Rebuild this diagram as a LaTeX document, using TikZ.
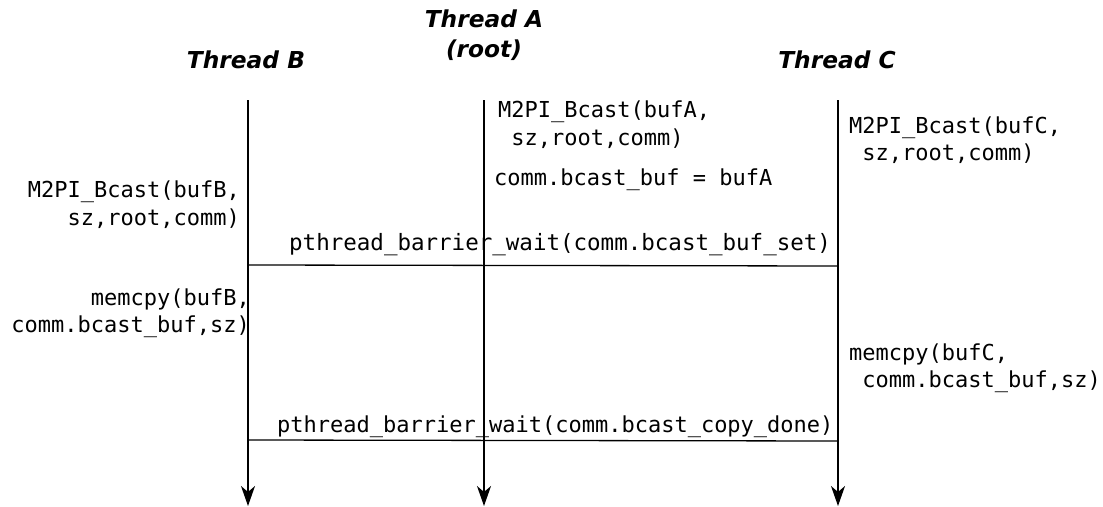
\documentclass[tikz,border=0pt]{standalone}
\usepackage{fontspec}
\setmainfont{DejaVu Sans}
\setmonofont{DejaVu Sans Mono}
\usetikzlibrary{arrows.meta}
\begin{document}
\begin{tikzpicture}[x=1pt,y=-1pt,
  hdr/.style={font=\fontsize{23.3}{30}\selectfont\bfseries\itshape, inner sep=0pt, align=center},
  code/.style={font=\fontsize{22}{27.5}\selectfont\ttfamily, inner sep=0pt},
  life/.style={line width=1.3pt, -{Stealth[length=20pt,width=14pt,inset=6pt]}},
  barrier/.style={line width=1.3pt}]
\useasboundingbox (0,0) rectangle (1103,506);
% headers
\node[hdr] (hB) at (246,60) {Thread B};
\node[hdr] (hA) at (484,35) {Thread A\\(root)};
\node[hdr] (hC) at (837,60) {Thread C};
% lifeline coordinates
\coordinate (topB) at (248,100);
\coordinate (botB) at (248,506);
\coordinate (topA) at (484,100);
\coordinate (botA) at (484,506);
\coordinate (topC) at (838,100);
\coordinate (botC) at (838,506);
\draw[life] (topB) -- (botB);
\draw[life] (topA) -- (botA);
\draw[life] (topC) -- (botC);
% barriers
\coordinate (b1L) at (248,265);
\coordinate (b1R) at (838,266);
\coordinate (b2L) at (248,440);
\coordinate (b2R) at (838,441);
\draw[barrier] (b1L) -- (b1R);
\draw[barrier] (b2L) -- (b2R);
% texts
\node[code, anchor=base west] (tA1) at (498,117.5) {M2PI\_Bcast(bufA,};
\node[code, anchor=base west] (tA2) at (498,145) {\ sz,root,comm)};
\node[code, anchor=base west] (tA3) at (494,185) {comm.bcast\_buf = bufA};
\node[code, anchor=base west] (tC1) at (849,133) {M2PI\_Bcast(bufC,};
\node[code, anchor=base west] (tC2) at (849,160) {\ sz,root,comm)};
\node[code, anchor=base east] (tB1) at (240,197) {M2PI\_Bcast(bufB,};
\node[code, anchor=base east] (tB2) at (240,225) {sz,root,comm)};
\node[code, anchor=base west, font=\fontsize{22.5}{27.5}\selectfont\ttfamily] (bar1) at (289,250) {pthread\_barrier\_wait(comm.bcast\_buf\_set)};
\node[code, anchor=base east] (tB3) at (250,305) {memcpy(bufB,};
\node[code, anchor=base east] (tB4) at (250,332) {comm.bcast\_buf,sz)};
\node[code, anchor=base west] (tC3) at (849,360) {memcpy(bufC,};
\node[code, anchor=base west] (tC4) at (849,387) {\ comm.bcast\_buf,sz)};
\node[code, anchor=base west] (bar2) at (277,432) {pthread\_barrier\_wait(comm.bcast\_copy\_done)};
\end{tikzpicture}
\end{document}
